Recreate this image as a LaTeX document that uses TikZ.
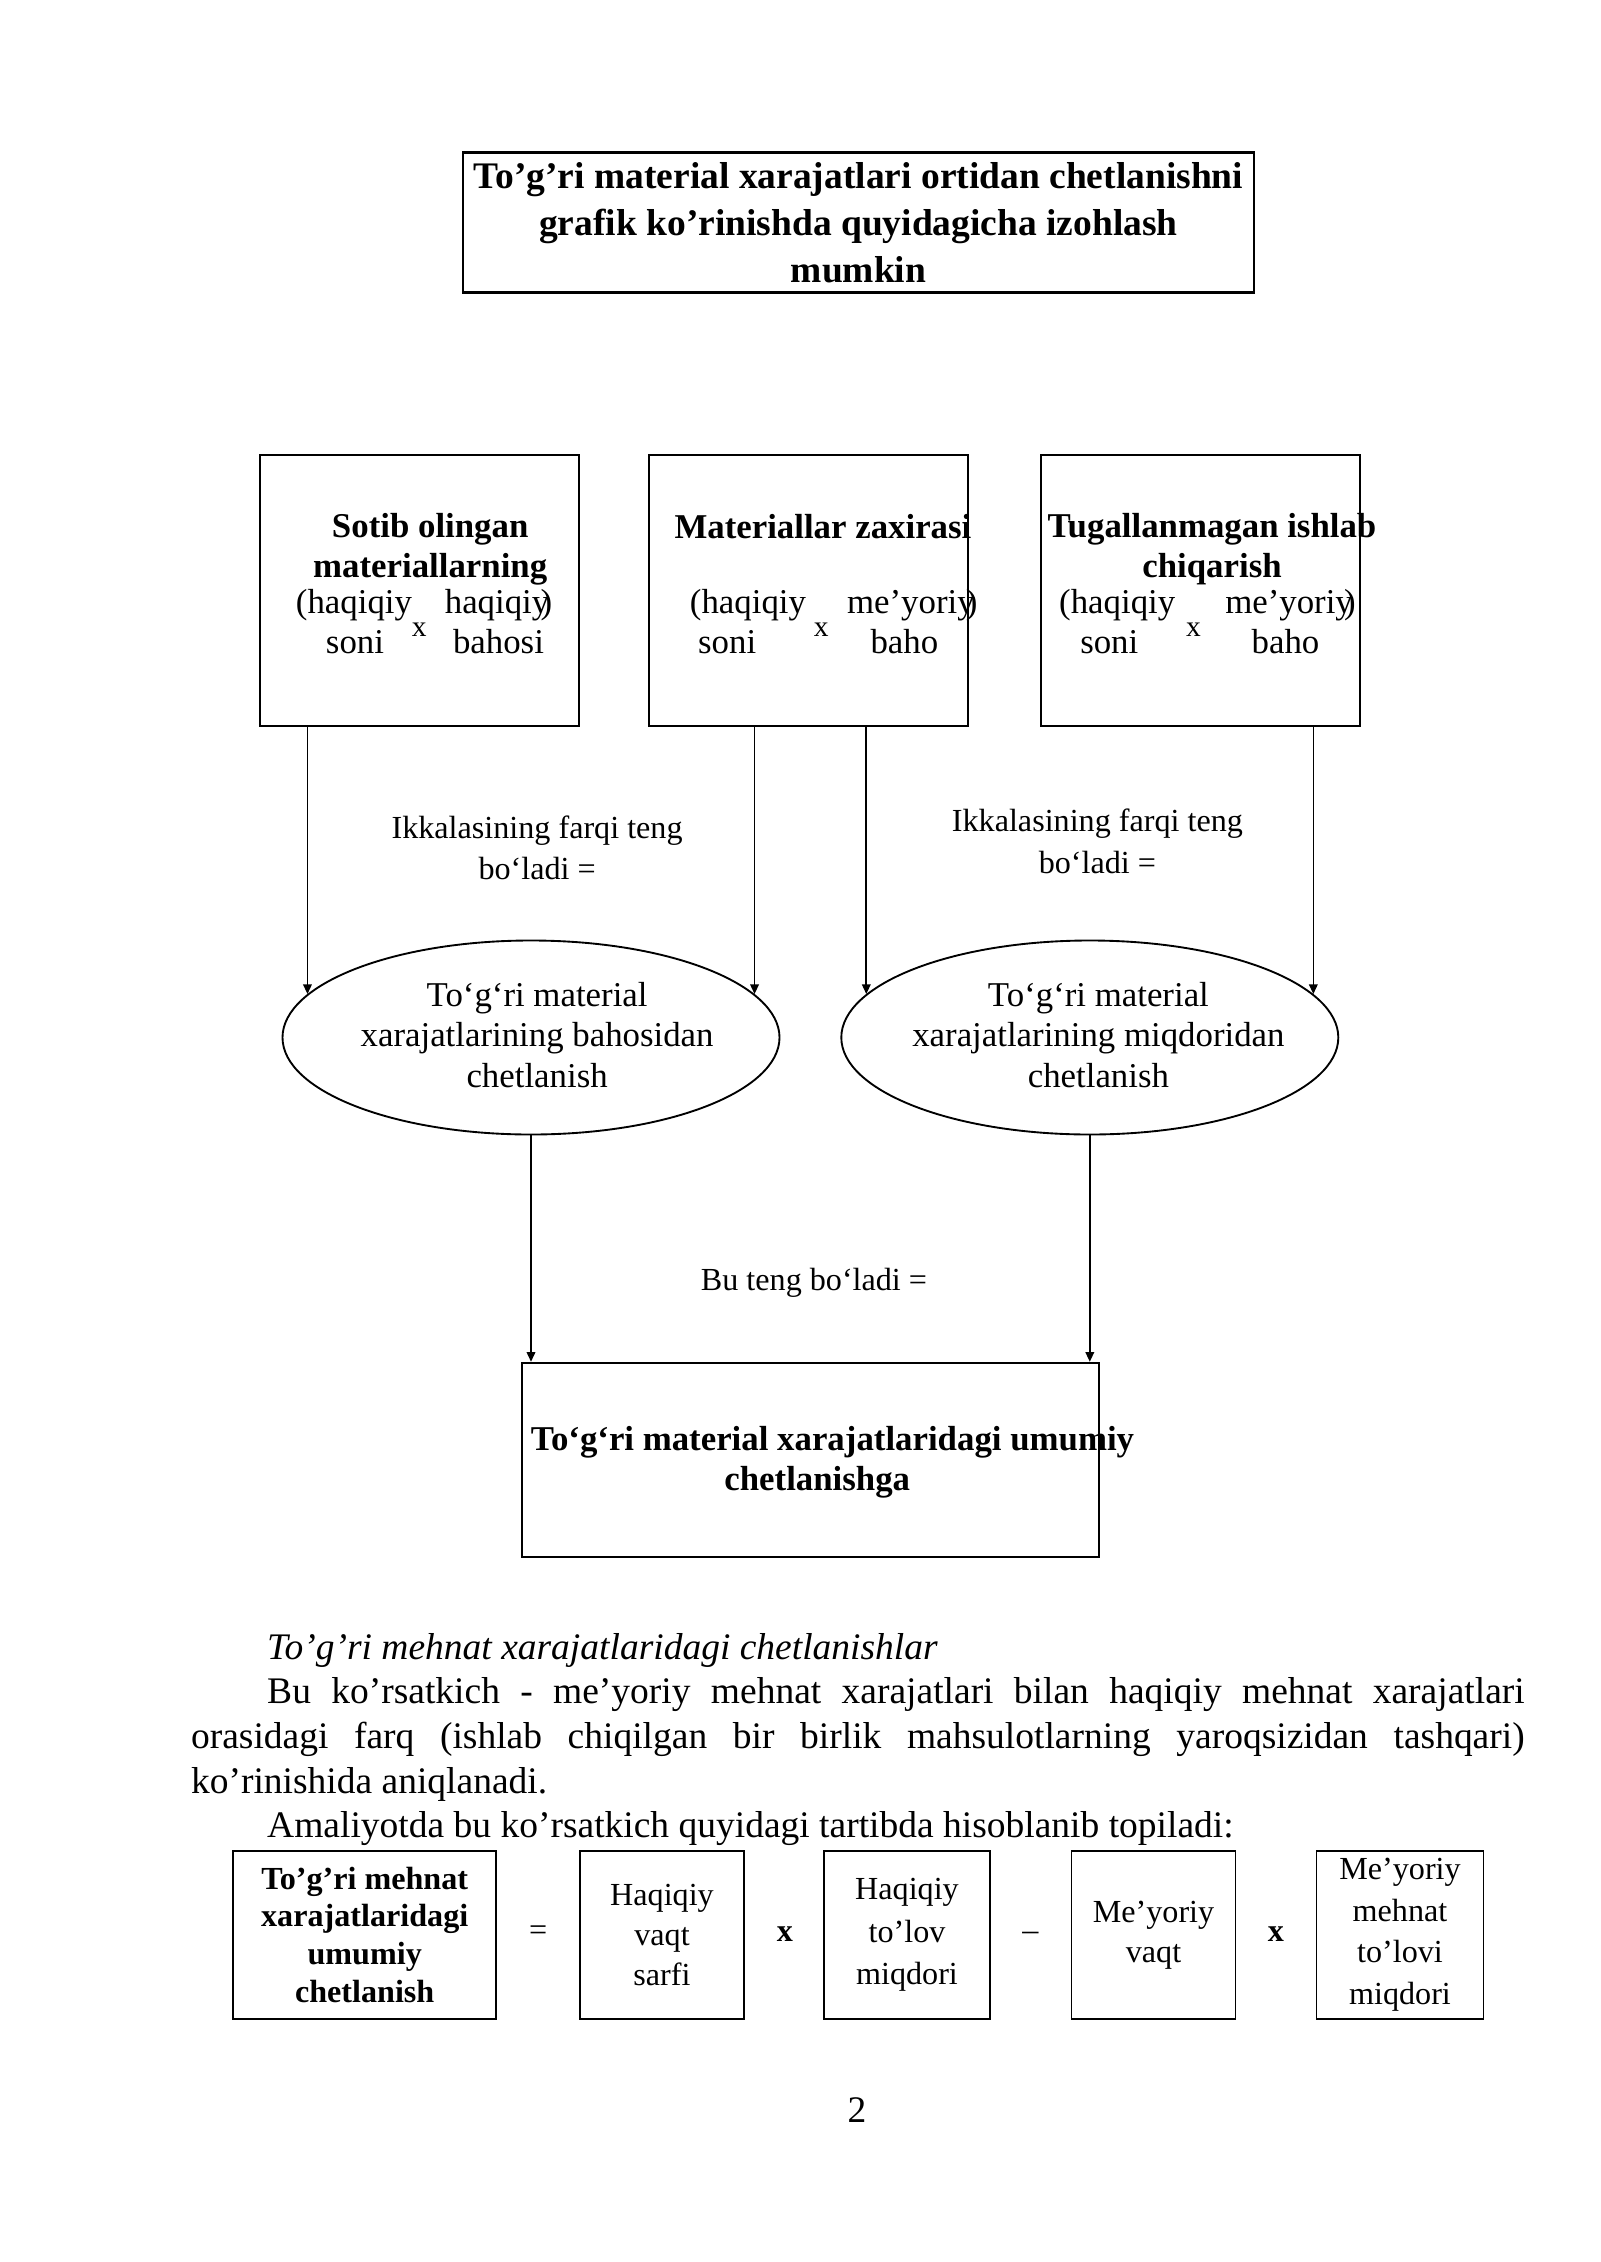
\documentclass[tikz,border=0pt]{standalone}
\usepackage{fontspec}
\setmainfont{Liberation Serif}
\usepackage{tikz}
\usetikzlibrary{arrows.meta,shapes.geometric,positioning,calc}

\tikzset{
  titelkasten/.style={draw, line width=0.9pt, inner sep=0pt, align=center,
    minimum width=791*\pxe cm, minimum height=140*\pxe cm,
    font=\fontsize{14}{17.5}\selectfont\bfseries},
  kasten/.style={draw, line width=0.7pt, inner sep=0pt,
    minimum width=319*\pxe cm, minimum height=271*\pxe cm},
  kopf/.style={font=\fontsize{13}{15}\selectfont\bfseries, align=center, inner sep=0pt},
  zeile/.style={font=\fontsize{13}{15}\selectfont, inner sep=0pt, text height=0.7em, text depth=0.22em},
  malzeichen/.style={font=\fontsize{11}{13}\selectfont, inner sep=0pt},
  oval/.style={ellipse, draw, line width=0.7pt, inner sep=0pt,
    minimum width=497*\pxe cm, minimum height=194*\pxe cm},
  ovaltext/.style={font=\fontsize{13}{15}\selectfont, align=center, inner sep=0pt},
  notiz/.style={font=\fontsize{12}{15.6}\selectfont, align=center, inner sep=0pt},
  pfeil/.style={-{Triangle[length=3.6pt,width=3.2pt]}, line width=0.6pt},
  absatz/.style={text width=17.5cm, align=justify, inner sep=0pt,
    font=\fontsize{14}{16.65}\selectfont},
  formelkasten/.style={draw, line width=0.7pt, inner sep=0pt, align=center,
    minimum height=168.5*\pxe cm, font=\fontsize{12}{15}\selectfont},
  zeichen/.style={font=\fontsize{12}{14}\selectfont, inner sep=0pt}
}

\begin{document}
\begin{tikzpicture}[x=0.013125cm, y=-0.013125cm]
%Seite A4: 1600 Pixel entsprechen 21cm, also 21/1600 cm je Pixel, y zeigt nach unten
  \pgfmathsetmacro{\pxe}{21/1600}
  \useasboundingbox (0,0) rectangle (1600,2262);
\node[titelkasten] (titel) at (858.5,222.7) {To’g’ri material xarajatlari ortidan chetlanishni\\grafik ko’rinishda quyidagicha izohlash\\mumkin};
%obere Kaesten
\node[kasten] (sotib) at (419.3,590.5) {};
\node[kasten] (zaxira) at (808.4,590.5) {};
\node[kasten] (tugal) at (1200.4,590.5) {};
\node[kopf] (sotibkopf) at (430.2,549) {Sotib olingan\\materiallarning};
\node[kopf] (zaxirakopf) at (822.9,526.7) {Materiallar zaxirasi};
\node[kopf] (tugalkopf) at (1212,549) {Tugallanmagan ishlab\\chiqarish};
%Klammerausdruck: (Anzahl x Preis) je Kasten
\foreach \i/\xlo/\xlu/\xm/\xro/\xru/\wort/\wortu in {1/354/355/419.3/498.5/498.5/haqiqiy/bahosi, 2/748/727.2/821.2/912.3/904.4/me’yoriy/baho, 3/1117.2/1109.3/1193.5/1290.5/1285.5/me’yoriy/baho}{
  \node[zeile] (lo\i) at (\xlo,606.7) {(haqiqiy};
  \node[zeile] (lu\i) at (\xlu,646.7) {soni};
  \node[malzeichen] (mal\i) at (\xm,630) {x};
  \node[zeile] (ro\i) at (\xro,606.7) {\wort\kern-.25em)};
  \node[zeile] (ru\i) at (\xru,646.7) {\wortu};
}
%Ellipsen
\node[oval] (bahooval) at (531,1037.5) {};
\node[oval] (miqdoroval) at (1089.8,1037.5) {};
\node[ovaltext] (bahotext) at (537.1,1035) {To‘g‘ri material\\xarajatlarining bahosidan\\chetlanish};
\node[ovaltext] (miqdortext) at (1098.4,1035) {To‘g‘ri material\\xarajatlarining miqdoridan\\chetlanish};
\node[notiz] (farqa) at (537.1,847.8) {Ikkalasining farqi teng\\bo‘ladi =};
\node[notiz] (farqb) at (1097.4,841.3) {Ikkalasining farqi teng\\bo‘ladi =};
%Pfeile treffen den Ellipsenrand unter 169 bzw. 11 Grad
\draw[pfeil] (sotib.south -| bahooval.169) -- (bahooval.169);
\draw[pfeil] (zaxira.south -| bahooval.11) -- (bahooval.11);
\draw[pfeil] (zaxira.south -| miqdoroval.169) -- (miqdoroval.169);
\draw[pfeil] (tugal.south -| miqdoroval.11) -- (miqdoroval.11);
%unterer Kasten
\node[kasten, minimum width=577*\pxe cm, minimum height=194*\pxe cm] (gesamt) at (810.8,1459.7) {};
\node[kopf] (gesamttext) at (832.5,1462.5) {To‘g‘ri material xarajatlaridagi umumiy\\chetlanishga\hspace*{0.4cm}};
\node[notiz] (teng) at (814,1283.3) {Bu teng bo‘ladi =};
\draw[pfeil] (bahooval.south) -- (bahooval.south |- gesamt.north);
\draw[pfeil] (miqdoroval.south) -- (miqdoroval.south |- gesamt.north);
%Fliesstext
\node[absatz, anchor=base west] (absatz) at (190.5,1659.3) {\sloppy
\hspace*{1cm}\textit{To’g’ri mehnat xarajatlaridagi chetlanishlar}\\
\hspace*{1cm}Bu ko’rsatkich - me’yoriy mehnat xarajatlari bilan haqiqiy mehnat xarajatlari\linebreak
orasidagi farq (ishlab chiqilgan bir birlik mahsulotlarning yaroqsizidan tashqari)\linebreak
ko’rinishida aniqlanadi.\\
\hspace*{1cm}Amaliyotda bu ko’rsatkich quyidagi tartibda hisoblanib topiladi:};
%Formel
\node[formelkasten, minimum width=262.7*\pxe cm, font=\fontsize{12}{14.1}\selectfont\bfseries] (umumiy) at (364.7,1934.8) {To’g’ri mehnat\\xarajatlaridagi\\umumiy\\chetlanish};
\node[zeichen] (gleich) at (538.3,1933.3) {=};
\node[formelkasten, minimum width=164*\pxe cm] (vaqtsarfi) at (662,1934.8) {Haqiqiy\\vaqt\\sarfi};
\node[zeichen, font=\fontsize{12}{14}\selectfont\bfseries] (malc) at (785,1934) {x};
\node[formelkasten, minimum width=166*\pxe cm, font=\fontsize{12}{16}\selectfont] (tolov) at (907,1934.8) {Haqiqiy\\to’lov\\miqdori};
\node[zeichen] (minus) at (1030.5,1936) {–};
\node[formelkasten, minimum width=164*\pxe cm] (meyorvaqt) at (1153.5,1934.8) {Me’yoriy\\vaqt};
\node[zeichen, font=\fontsize{12}{14}\selectfont\bfseries] (mald) at (1276,1934) {x};
\node[formelkasten, minimum width=167*\pxe cm, font=\fontsize{12}{15.6}\selectfont] (meyortolov) at (1400,1934.8) {Me’yoriy\\mehnat\\to’lovi\\miqdori};
\node[zeichen, font=\fontsize{14}{16}\selectfont] (seite) at (857,2110) {2};
\end{tikzpicture}
\end{document}
